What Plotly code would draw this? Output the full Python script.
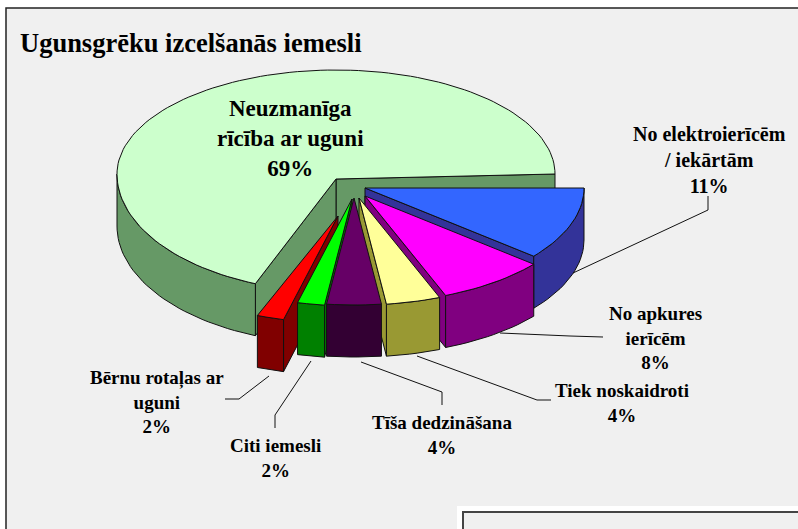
import math
import plotly.graph_objects as go

categories = ["Neuzmanīga<br>rīcība ar uguni", "No elektroierīcēm<br>/ iekārtām", "No apkures<br>ierīcēm",
              "Tiek noskaidroti", "Tīša dedzināšana", "Citi iemesli", "Bērnu rotaļas ar<br>uguni"]
values = [69, 11, 8, 4, 4, 2, 2]
top_colors = ["#CCFFCC", "#3366FF", "#FF00FF", "#FFFF99", "#660066", "#00FF00", "#FF0000"]
side_colors = ["#669966", "#333399", "#800080", "#999933", "#330033", "#008000", "#800000"]

# layout constants (pixel space of the 798x529 page)
RX, RY, DEPTH = 219, 107, 52
MAIN_CENTRE_Y, MAIN_RY_BACK, MAIN_RY_FRONT = 174, 104, 118
APEX = [(336, 179), (365, 188), (365, 196), (359, 198), (354, 198), (352, 199), (338, 216)]
DRAW_ORDER = [0, 1, 2, 3, 6, 5, 4]
LABEL_POS = [(290, 138), (709, 160), (655, 338), (622, 403), (442, 435), (275, 458), (157, 402)]
LABEL_SIZE = [23, 20, 19, 19, 19, 19, 19]
LEADERS = [
    [(573, 273), (708, 210), (708, 196)],
    [(500, 333), (570, 336), (603, 337)],
    [(417, 356), (537, 400), (551, 400)],
    [(361, 362), (442, 392), (442, 405)],
    [(311, 361), (275, 415), (275, 428)],
    [(269, 376), (239, 399), (225, 399)],
]

fig = go.Figure()


def pt(i, deg, drop=0):
    a = math.radians(deg)
    s = math.sin(a)
    if i == 0:
        ry = MAIN_RY_BACK if s > 0 else MAIN_RY_FRONT
        return APEX[0][0] + RX * math.cos(a), MAIN_CENTRE_Y - ry * s + drop
    return APEX[i][0] + RX * math.cos(a), APEX[i][1] - RY * s + drop


def poly(points, color):
    fig.add_trace(go.Scatter(x=[p[0] for p in points] + [points[0][0]],
                             y=[p[1] for p in points] + [points[0][1]],
                             mode="lines", fill="toself", fillcolor=color,
                             line=dict(color="#111111", width=1),
                             hoverinfo="skip", showlegend=False))


def arc(i, a, b, drop=0, step=2.0):
    n = max(2, int(abs(b - a) / step) + 1)
    return [pt(i, a + (b - a) * k / (n - 1), drop) for k in range(n)]


# angular spans from the values: first slice counter-clockwise from 0, the others clockwise
total = sum(values)
spans = [(0.0, values[0] / total * 360)]
cur = 0.0
for v in values[1:]:
    nxt = cur - v / total * 360
    spans.append((nxt, cur))
    cur = nxt

for i in DRAW_ORDER:
    a1, a2 = spans[i]
    apex = APEX[i]
    ad = (apex[0], apex[1] + DEPTH)
    # cut faces that face the viewer
    for edge, normal in ((a1, a1 - 90), (a2, a2 + 90)):
        if math.sin(math.radians(normal)) < 0:
            p = pt(i, edge)
            poly([apex, p, (p[0], p[1] + DEPTH), ad], side_colors[i])
    # outer wall: only the part on the near half
    lo = 180.0 if i == 0 else a1
    poly(arc(i, lo, a2) + arc(i, a2, lo, DEPTH), side_colors[i])
    # top
    poly([apex] + arc(i, a1, a2), top_colors[i])

annotations = [dict(x=x, y=y, xref="x", yref="y", text=f"<b>{c}<br>{v}%</b>", showarrow=False,
                    font=dict(family="Liberation Serif", size=s, color="#000000"), align="center")
               for c, v, (x, y), s in zip(categories, values, LABEL_POS, LABEL_SIZE)]
annotations.append(dict(x=18, y=43, xref="x", yref="y", text="<b>Ugunsgrēku izcelšanās iemesli</b>",
                        showarrow=False, xanchor="left",
                        font=dict(family="Liberation Serif", size=26.5, color="#000000")))

shapes = [
    dict(type="rect", xref="x", yref="y", x0=6, y0=8, x1=830, y1=560, fillcolor="#F0F0F0",
         line=dict(color="#222222", width=1.5), layer="below"),
    dict(type="rect", xref="x", yref="y", x0=457, y0=506, x1=830, y1=560, fillcolor="#FFFFFF",
         line=dict(width=0), layer="below"),
    dict(type="rect", xref="x", yref="y", x0=463, y0=512, x1=830, y1=560, fillcolor="#F0F0F0",
         line=dict(color="#444444", width=2), layer="below"),
]
for line in LEADERS:
    path = "M " + " L ".join(f"{x},{y}" for x, y in line)
    shapes.append(dict(type="path", xref="x", yref="y", path=path, line=dict(color="#111111", width=1)))

fig.update_layout(width=798, height=529, autosize=False, margin=dict(l=0, r=0, t=0, b=0),
                  paper_bgcolor="#FFFFFF", plot_bgcolor="#FFFFFF", showlegend=False,
                  xaxis=dict(range=[0, 798], visible=False, fixedrange=True),
                  yaxis=dict(range=[529, 0], visible=False, fixedrange=True),
                  annotations=annotations, shapes=shapes)
fig.write_html("out.html", config={"displayModeBar": False},
               post_script="document.body.style.margin='0';document.body.style.overflow='hidden';")
